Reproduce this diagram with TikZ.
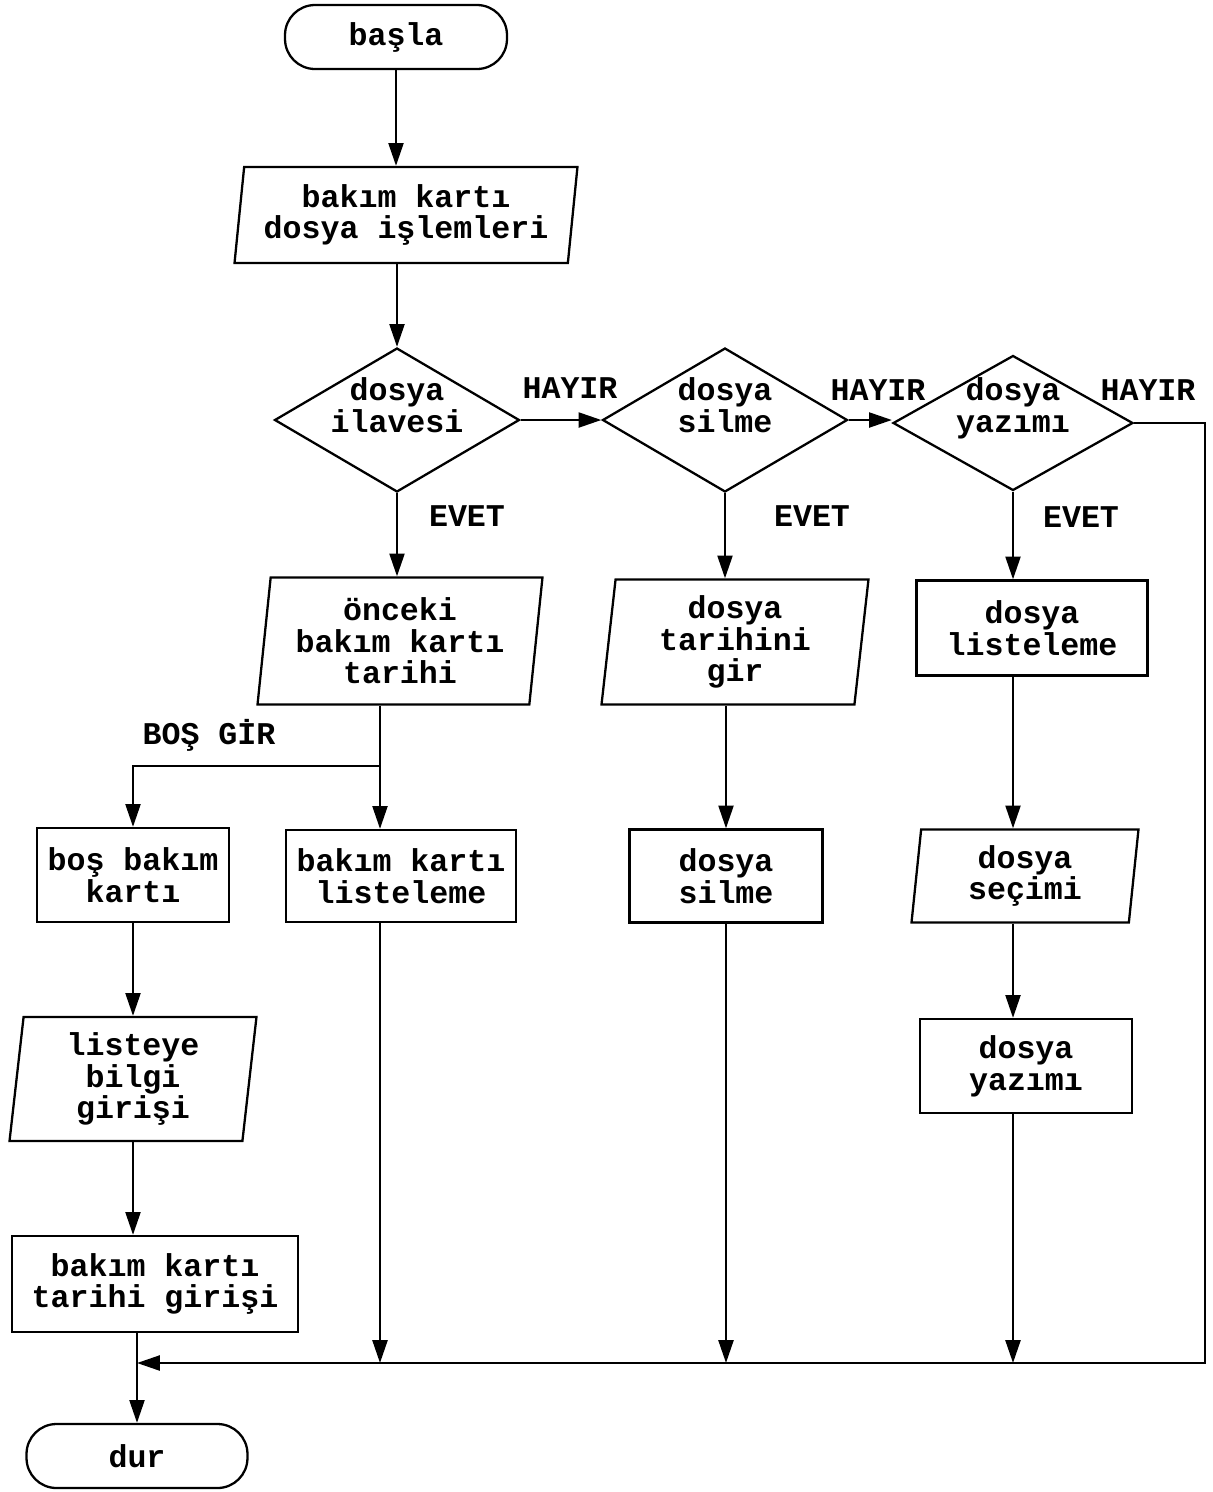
\documentclass[tikz,border=0pt]{standalone}
\usepackage{fontspec}
\setmonofont{Liberation Mono}
\usetikzlibrary{shapes.geometric,arrows.meta}
\tikzset{
  shp/.style={draw=black, line width=1.3pt, align=center, inner sep=2pt,
    font=\ttfamily\bfseries\fontsize{18pt}{18pt}\selectfont},
  termbox/.style={shp, rectangle, rounded corners=0.6cm},
  procbox/.style={shp, rectangle},
  iobox/.style={shp, trapezium, trapezium stretches body,
    trapezium left angle=82, trapezium right angle=98},
  decbox/.style={shp, diamond},
  dectext/.style={align=center, yshift=0.3cm,
    font=\ttfamily\bfseries\fontsize{18pt}{18pt}\selectfont},
  arr/.style={-{Triangle[length=13pt,width=8.5pt]}, line width=1.4pt},
  lab/.style={font=\ttfamily\bfseries\fontsize{18pt}{18pt}\selectfont},
}

\begin{document}
\begin{tikzpicture}[x=0.02cm, y=-0.02cm]
  \useasboundingbox (0,0) rectangle (1213,1492);
  % ana akis
  \node[termbox, minimum width=4.44cm, minimum height=1.28cm] (basla) at (396,37) {başla};
  \node[iobox, minimum width=6.86cm, minimum height=1.92cm] (kart) at (406,215) {bakım kartı\\dosya işlemleri};
  \node[decbox, minimum width=4.9cm, minimum height=2.88cm,
    label={[dectext]center:dosya\\ilavesi}] (ilave) at (397,420) {};
  \node[decbox, minimum width=4.9cm, minimum height=2.88cm,
    label={[dectext]center:dosya\\silme}] (silsor) at (725,420) {};
  \node[decbox, minimum width=4.8cm, minimum height=2.7cm,
    label={[dectext]center:dosya\\yazımı}] (yazsor) at (1013,423) {};
  \node[iobox, minimum width=5.7cm, minimum height=2.54cm] (onceki) at (400,641) {önceki\\bakım kartı\\tarihi};
  \node[iobox, minimum width=5.34cm, minimum height=2.5cm] (tarih) at (735,642) {dosya\\tarihini\\gir};
  \node[procbox, minimum width=4.62cm, minimum height=1.9cm] (liste) at (1032,628) {dosya\\listeleme};
  \node[procbox, minimum width=3.84cm, minimum height=1.88cm] (bos) at (133,875) {boş bakım\\kartı};
  \node[procbox, minimum width=4.6cm, minimum height=1.84cm] (kliste) at (401,876) {bakım kartı\\listeleme};
  \node[procbox, minimum width=3.86cm, minimum height=1.86cm] (sil) at (726,876) {dosya\\silme};
  \node[iobox, minimum width=4.54cm, minimum height=1.86cm] (secim) at (1025,876) {dosya\\seçimi};
  \node[procbox, minimum width=4.24cm, minimum height=1.88cm] (yazim) at (1026,1066) {dosya\\yazımı};
  \node[iobox, minimum width=4.94cm, minimum height=2.48cm] (bilgi) at (133,1079) {listeye\\bilgi\\girişi};
  \node[procbox, minimum width=5.72cm, minimum height=1.92cm] (tgiris) at (155,1284) {bakım kartı\\tarihi girişi};
  \node[termbox, minimum width=4.42cm, minimum height=1.28cm] (dur) at (137,1456) {dur};

  \coordinate (split) at (380,766);
  \coordinate (join) at (137,1363);
  \coordinate (rt) at (1205,1363);

  % etiketler
  \node[lab] (no1) at (570,388) {HAYIR};
  \node[lab] (no2) at (878,390) {HAYIR};
  \node[lab] (no3) at (1148,390) {HAYIR};
  \node[lab] (yes1) at (467,516) {EVET};
  \node[lab] (yes2) at (812,516) {EVET};
  \node[lab] (yes3) at (1081,517) {EVET};
  \node[lab] (bosgir) at (209,735) {BOŞ GİR};

  % baglantilar
  \draw[arr] (basla.south) -- (basla.south |- kart.north);
  \draw[arr] (ilave.north |- kart.south) -- (ilave.north);
  \draw[arr] (ilave.east) -- (silsor.west);
  \draw[arr] (silsor.east) -- (silsor.east -| yazsor.west);
  \draw[arr] (ilave.south) -- (ilave.south |- onceki.north);
  \draw[arr] (silsor.south) -- (silsor.south |- tarih.north);
  \draw[arr] (yazsor.south) -- (yazsor.south |- liste.north);
  \draw[arr] (split |- onceki.south) -- (split |- kliste.north);
  \draw[arr] (split) -| (bos.north);
  \draw[arr] (sil.north |- tarih.south) -- (sil.north);
  \draw[arr] (yazsor.south |- liste.south) -- (yazsor.south |- secim.north);
  \draw[arr] (yazsor.south |- secim.south) -- (yazsor.south |- yazim.north);
  \draw[arr] (bos.south) -- (bos.south |- bilgi.north);
  \draw[arr] (bos.south |- bilgi.south) -- (bos.south |- tgiris.north);
  \draw[arr] (dur.north |- tgiris.south) -- (dur.north);
  \draw[arr] (split |- kliste.south) -- (split |- join);
  \draw[arr] (sil.south) -- (sil.south |- join);
  \draw[arr] (yazsor.south |- yazim.south) -- (yazsor.south |- join);
  \draw[arr] (yazsor.east) -| (rt) -- (join);
\end{tikzpicture}
\end{document}
